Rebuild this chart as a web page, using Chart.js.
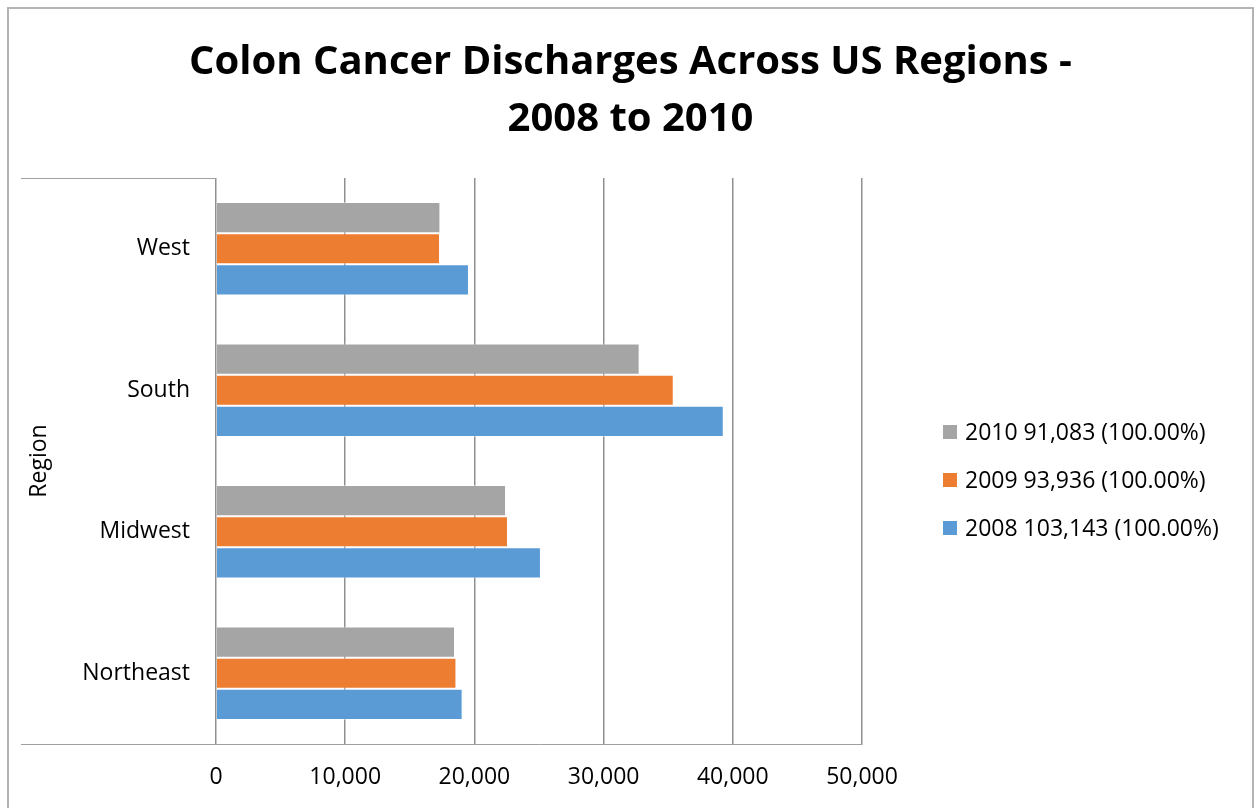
<!DOCTYPE html>
<html>
<head>
<meta charset="utf-8">
<script src="https://cdn.jsdelivr.net/npm/chart.js@4/dist/chart.umd.min.js"></script>
<style>
	body { margin: 0; background: #fff; }
	#box {
		position: absolute;
		left: 7px;
		top: 7px;
		width: 1243px;
		height: 820px;
		border: 2px solid #b4b4b4;
		background: #fff;
	}
	#chart { display: block; }
</style>
</head>
<body>
<div id="box"><canvas id="chart" width="1243" height="799"></canvas></div>
<script>
/* regions, top to bottom */
const regions = ['West', 'South', 'Midwest', 'Northeast'];

/* discharges per year */
const years = ['2010', '2009', '2008'];
const d2010 = [17370, 32790, 22450, 18500];
const d2009 = [17340, 35430, 22600, 18610];
const d2008 = [19580, 39300, 25150, 19090];
const totals = ['91,083', '93,936', '103,143'];
const shares = ['100.00%', '100.00%', '100.00%'];

/* x axis */
const xTicks = [0, 10000, 20000, 30000, 40000, 50000];

const colors = ['#a5a5a5', '#ed7d31', '#5b9bd5'];
const FONT = "'Open Sans', sans-serif";

window.onload = function () {
	draw();
};

/* side legend: box + "year total (share)" */
const sideLegend = {
	id: 'sideLegend',
	afterDraw(chart) {
		const ctx = chart.ctx;
		const area = chart.chartArea;
		const mid = (area.top + area.bottom) / 2 + 19;
		const x = area.right + 81;
		ctx.save();
		ctx.font = '23px ' + FONT;
		ctx.textBaseline = 'middle';
		ctx.textAlign = 'left';
		chart.data.datasets.forEach(function (ds, i) {
			const y = mid + (i - 1) * 48;
			ctx.fillStyle = ds.backgroundColor;
			ctx.fillRect(x, y - 7, 14, 14);
			ctx.fillStyle = '#000';
			ctx.fillText(years[i] + ' ' + totals[i] + ' (' + shares[i] + ')', x + 22, y + 1);
		});
		ctx.restore();
	}
};

/* category axis edge lines, running out to the axis title */
const axisEdges = {
	id: 'axisEdges',
	afterDraw(chart) {
		const ctx = chart.ctx;
		const area = chart.chartArea;
		const left = chart.scales.y.left;
		ctx.save();
		ctx.strokeStyle = '#a0a0a0';
		ctx.lineWidth = 1;
		ctx.beginPath();
		ctx.moveTo(left, area.top + 0.5);
		ctx.lineTo(area.left, area.top + 0.5);
		ctx.moveTo(left, area.bottom + 0.5);
		ctx.lineTo(area.left, area.bottom + 0.5);
		ctx.stroke();
		ctx.restore();
	}
};

function draw() {
	const series = [d2010, d2009, d2008];

	const data = {
		labels: regions,
		datasets: years.map(function (y, i) {
			return {
				label: y,
				data: series[i],
				backgroundColor: colors[i],
				borderColor: 'rgba(255,255,255,0.45)',
				borderWidth: 1,
				categoryPercentage: 0.66,
				barPercentage: 1.0
			};
		})
	};

	const config = {
		type: 'bar',
		data: data,
		options: {
			indexAxis: 'y',
			responsive: false,
			animation: false,
			layout: {
				padding: { left: 12, right: 12, top: 0, bottom: 0 }
			},
			plugins: {
				legend: { display: false },
				tooltip: { enabled: false },
				title: {
					display: true,
					text: ['Colon Cancer Discharges Across US Regions -', '2008 to 2010'],
					color: '#000',
					font: { family: FONT, size: 40, weight: 'bold', lineHeight: 1.425 },
					padding: { top: 25, bottom: 30 }
				}
			},
			scales: {
				x: {
					min: xTicks[0],
					max: xTicks[xTicks.length - 1],
					afterBuildTicks: function (scale) {
						scale.ticks = xTicks.map(function (v) { return { value: v }; });
					},
					afterFit: function (scale) { scale.height = 64; },
					ticks: {
						color: '#000',
						font: { family: FONT, size: 23 },
						padding: 20,
						maxRotation: 0,
						callback: function (v) { return v.toLocaleString('en-US'); }
					},
					grid: { color: '#8f8f8f', lineWidth: 1.5, drawTicks: false },
					border: { display: true, color: '#a0a0a0', width: 1 }
				},
				y: {
					afterFit: function (scale) { scale.width = 195; },
					ticks: {
						color: '#000',
						font: { family: FONT, size: 23 },
						padding: 26
					},
					grid: { display: false, drawTicks: false },
					border: { display: false },
					title: {
						display: true,
						text: 'Region',
						color: '#000',
						font: { family: FONT, size: 23 },
						padding: { top: 5, bottom: 0 }
					}
				},
				/* empty right-hand axis, leaves room for the side legend */
				yRoom: {
					type: 'category',
					position: 'right',
					afterFit: function (scale) { scale.width = 378; },
					ticks: { display: false },
					grid: { display: false, drawTicks: false },
					border: { display: false }
				}
			}
		},
		plugins: [sideLegend, axisEdges]
	};

	new Chart(document.getElementById('chart'), config);
}
</script>
</body>
</html>
